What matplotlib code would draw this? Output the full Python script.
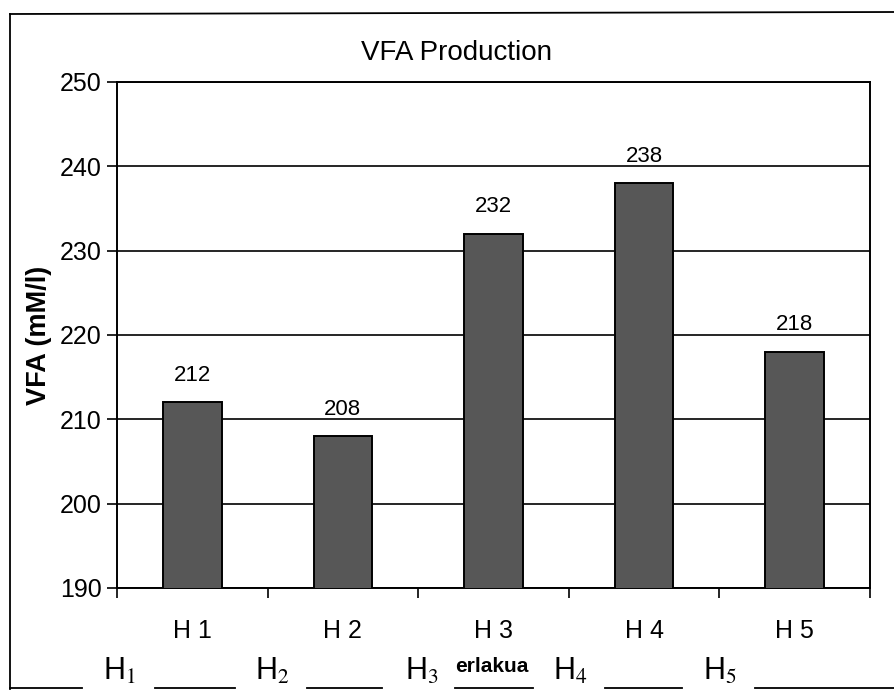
import matplotlib.pyplot as plt
from matplotlib.lines import Line2D

"""
VFA Production bar chart (scanned figure look)
"""

treatments = ['H 1', 'H 2', 'H 3', 'H 4', 'H 5']
vfa = [212, 208, 232, 238, 218]
y_ticks = [190, 200, 210, 220, 230, 240, 250]
footer_labels = ['H$_1$', 'H$_2$', 'H$_3$', 'H$_4$', 'H$_5$']

plt.rcParams['font.family'] = ['Liberation Sans', 'DejaVu Sans']
plt.rcParams['mathtext.fontset'] = 'stix'

fig = plt.figure(figsize=(8.95, 6.9), dpi=100)
ax = fig.add_axes([117 / 895, 1 - 588 / 690, 753 / 895, 506 / 690])

x = list(range(len(treatments)))
bars = ax.bar(x, vfa, width=0.39, color='#575757', edgecolor='black', linewidth=1.4, zorder=3)

for xi, v in zip(x, vfa):
    ax.annotate(str(v), (xi, v), xytext=(0, 12), textcoords='offset points',
                ha='center', va='bottom', fontsize=16)

ax.set_xlim(-0.5, len(treatments) - 0.5)
ax.set_ylim(190, 250)
ax.set_yticks(y_ticks)
ax.tick_params(axis='y', labelsize=18, length=7, width=1.2, direction='out', pad=4)

# ticks between categories, labels at the bar centres
ax.set_xticks([i - 0.5 for i in range(len(treatments) + 1)])
ax.set_xticklabels([])
ax.set_xticks(x, minor=True)
ax.set_xticklabels(treatments, minor=True)
ax.tick_params(axis='x', which='major', length=7, width=1.2, direction='out')
ax.tick_params(axis='x', which='minor', length=0, labelsize=18, pad=22)

ax.yaxis.grid(True, color='black', linewidth=1.2, zorder=0)
ax.set_axisbelow(True)
for sp in ax.spines.values():
    sp.set_linewidth(1.4)
    sp.set_color('black')

ax.set_ylabel('VFA (mM/l)', fontsize=19.5, fontweight='bold', labelpad=6)
fig.text(457 / 895, 1 - 53 / 690, 'VFA Production', ha='center', va='center', fontsize=20)

# partially hidden x label
fig.text(455 / 895, 1 - 666 / 690, 'erlakua', ha='left', va='center', fontsize=15, fontweight='bold')

# outer frame of the scanned page
fig.add_artist(Line2D([10 / 895, 10 / 895], [1 - 689 / 690, 1 - 14 / 690], color='black', lw=1.3))
fig.add_artist(Line2D([10 / 895, 1.0], [1 - 14 / 690, 1 - 12 / 690], color='black', lw=1.3))

# footer row from the page underneath
footer_x = [103, 255, 405, 553, 703]
for fx, lab in zip(footer_x, footer_labels):
    fig.text(fx / 895, 1 - 680 / 690, lab, ha='left', va='baseline', fontsize=22)
segments = [(10, 82), (155, 235), (307, 382), (455, 533), (605, 682), (755, 895)]
for a, b in segments:
    fig.add_artist(Line2D([a / 895, b / 895], [1 - 688 / 690, 1 - 688 / 690], color='black', lw=1.3))

fig.savefig('out.png', dpi=100)
